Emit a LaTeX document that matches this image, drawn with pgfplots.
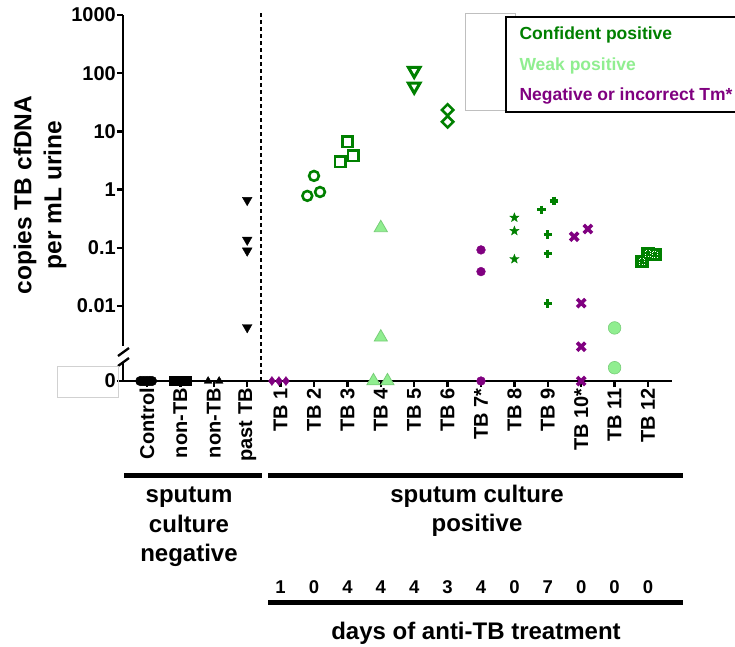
\documentclass[border=0pt]{standalone}
\usepackage{fontspec}
\setmainfont{Liberation Sans}
\usepackage{pgfplots}
\pgfplotsset{compat=1.18}
\definecolor{cgreen}{RGB}{0,128,0}
\definecolor{lgreen}{RGB}{144,238,144}
\definecolor{lgedge}{RGB}{120,205,120}
\definecolor{cpurple}{RGB}{128,0,128}
\pgfdeclareplotmark{fstar}{%
  \pgfpathmoveto{\pgfpointpolar{90}{\pgfplotmarksize}}%
  \pgfpathlineto{\pgfpointpolar{126}{0.42\pgfplotmarksize}}%
  \pgfpathlineto{\pgfpointpolar{162}{\pgfplotmarksize}}%
  \pgfpathlineto{\pgfpointpolar{198}{0.42\pgfplotmarksize}}%
  \pgfpathlineto{\pgfpointpolar{234}{\pgfplotmarksize}}%
  \pgfpathlineto{\pgfpointpolar{270}{0.42\pgfplotmarksize}}%
  \pgfpathlineto{\pgfpointpolar{306}{\pgfplotmarksize}}%
  \pgfpathlineto{\pgfpointpolar{342}{0.42\pgfplotmarksize}}%
  \pgfpathlineto{\pgfpointpolar{18}{\pgfplotmarksize}}%
  \pgfpathlineto{\pgfpointpolar{54}{0.42\pgfplotmarksize}}%
  \pgfpathclose\pgfusepathqfillstroke}
\begin{document}
\begin{tikzpicture}[x=1pt,y=1pt]
\useasboundingbox (0,0) rectangle (735,-646);
\begin{axis}[
  at={(123pt,-381pt)}, anchor=south west,
  scale only axis, width=549pt, height=366pt,
  xmin=-0.7186, xmax=15.719,
  ymode=log, ymin=5.14e-4, ymax=1000,
  axis x line*=bottom, axis y line*=left,
  axis line style={line width=2.3pt, black},
  clip=false,
  tick align=outside, major tick length=6pt,
  major tick style={line width=2.3pt, black},
  minor tick num=0,
  xtick={0,...,15},
  xticklabels={Control,non-TB,non-TB,past TB,TB 1,TB 2,TB 3,TB 4,TB 5,TB 6,TB 7*,TB 8,TB 9,TB 10*,TB 11,TB 12},
  x tick label style={rotate=90, anchor=east, font=\bfseries\fontsize{20}{22}\selectfont, inner sep=1pt},
  ytick={5.14e-4,0.01,0.1,1,10,100,1000},
  yticklabels={0,0.01,0.1,1,10,100,1000},
  y tick label style={font=\bfseries\fontsize{20}{22}\selectfont, inner sep=1pt},
  ylabel={copies TB cfDNA\\per mL urine},
  ylabel style={at={(axis description cs:-0.1512,0.508)}, anchor=center, align=center, font=\bfseries\fontsize{24.5}{30}\selectfont},
]
% Control
\addplot[only marks, mark=*, mark size=4.8pt, black] coordinates {(-0.2,5.14e-4)(-0.13,5.14e-4)(-0.06,5.14e-4)(0.01,5.14e-4)(0.08,5.14e-4)(0.15,5.14e-4)};
% non-TB squares
\addplot[only marks, mark=square*, mark size=4.5pt, black] coordinates {(0.8,5.14e-4)(0.88,5.14e-4)(0.96,5.14e-4)(1.04,5.14e-4)(1.12,5.14e-4)(1.2,5.14e-4)};
% non-TB triangles
\addplot[only marks, mark=triangle*, mark size=4.5pt, black] coordinates {(1.83,5.14e-4)(2.16,5.14e-4)};
% past TB
\addplot[only marks, mark=triangle*, mark options={rotate=180}, mark size=5.6pt, black] coordinates {(3,0.66)(3,0.137)(3,0.089)(3,0.0043)};
% TB 1
\addplot[only marks, mark=diamond*, mark size=4.5pt, cpurple] coordinates {(3.74,5.14e-4)(3.95,5.14e-4)(4.16,5.14e-4)};
% TB 2
\addplot[only marks, mark=o, mark size=4.9pt, cgreen, mark options={line width=2.6pt}] coordinates {(4.8,0.78)(5.0,1.72)(5.18,0.91)};
% TB 3
\addplot[only marks, mark=square, mark size=5.2pt, cgreen, mark options={line width=2.6pt}] coordinates {(5.78,3.0)(6.0,6.6)(6.17,3.8)};
% TB 4
\addplot[only marks, mark=triangle*, mark size=7.6pt, mark options={fill=lgreen, draw=lgedge, line width=0.8pt}] coordinates {(7,0.22)(7,0.0029)(6.78,5.14e-4)(7.2,5.14e-4)};
% TB 5
\addplot[only marks, mark=triangle, mark size=6.6pt, cgreen, mark options={rotate=180, line width=3pt}] coordinates {(8,110)(8,59)};
% TB 6
\addplot[only marks, mark=square, mark size=4pt, cgreen, mark options={rotate=45, line width=2.6pt}] coordinates {(9,23.4)(9,14.6)};
% TB 7*
\addplot[only marks, mark=*, mark size=4.4pt, cpurple] coordinates {(10,0.092)(10,0.039)(10,5.14e-4)};
% TB 8
\addplot[only marks, mark=fstar, mark size=4.8pt, cgreen, mark options={fill=cgreen, line width=0.4pt}] coordinates {(11,0.33)(11,0.195)(11,0.064)};
% TB 9
\addplot[only marks, mark=+, mark size=4.2pt, cgreen, mark options={line width=3.3pt}] coordinates {(11.81,0.45)(12.19,0.64)(12,0.17)(12,0.079)(12,0.011)};
% TB 10*
\addplot[only marks, mark=x, mark size=5.8pt, cpurple, mark options={line width=3.6pt}] coordinates {(12.79,0.155)(13.2,0.21)(13,0.0112)(13,0.0020)(13,5.14e-4)};
% TB 11
\addplot[only marks, mark=*, mark size=6.3pt, mark options={fill=lgreen, draw=lgedge, line width=0.6pt}] coordinates {(14,0.0042)(14,0.00087)};
% TB 12
\addplot[only marks, mark=square*, mark size=6.2pt, cgreen, mark options={line width=0.6pt}] coordinates {(14.82,0.059)(15.0,0.081)(15.2,0.078)};
\addplot[only marks, mark=square, mark size=2.8pt, mark options={draw=white, line width=0.6pt, dash pattern=on 0.7pt off 1.8pt}] coordinates {(14.82,0.059)(15.0,0.081)(15.2,0.078)};
\end{axis}
% y-axis break
\fill[white] (117,-346) rectangle (130,-368);
\draw[line width=2.3pt] (118,-356) -- (129,-348);
\draw[line width=2.3pt] (118,-366) -- (129,-358);
\draw[line width=2.3pt] (123,-362) -- (123,-381);
% gray artefact boxes
\draw[black!18, line width=0.8pt] (57,-366) rectangle (118,-397);
% dashed separator
\draw[line width=1.5pt, dash pattern=on 4pt off 3pt] (261,-13) -- (261,-381);
% legend
\draw[black!25, line width=0.8pt] (465,-13) rectangle (515,-110);
\filldraw[fill=white, draw=black, line width=2.3pt] (506,-17) rectangle (745,-112);
\node[anchor=west, text=cgreen, font=\bfseries\fontsize{17.5}{20}\selectfont] at (516,-35) {Confident positive};
\node[anchor=west, text=lgreen, font=\bfseries\fontsize{17.5}{20}\selectfont] at (516,-66) {Weak positive};
\node[anchor=west, text=cpurple, font=\bfseries\fontsize{17.5}{20}\selectfont] at (516,-96) {Negative or incorrect Tm*};
% group bars and labels
\draw[line width=5pt] (124,-475) -- (262,-475);
\draw[line width=5pt] (268,-475) -- (683,-475);
\node[align=center, font=\bfseries\fontsize{24}{29.5}\selectfont] at (189,-527) {sputum\\culture\\negative};
\node[align=center, font=\bfseries\fontsize{24}{29.5}\selectfont] at (477,-511) {sputum culture\\positive};
\foreach \d [count=\k from 4] in {1,0,4,4,4,3,4,0,7,0,0,0}
  \node[font=\bfseries\fontsize{18.5}{20}\selectfont] at ({147+33.4*\k},-587) {\d};
\draw[line width=5pt] (268,-602) -- (683,-602);
\node[font=\bfseries\fontsize{24}{28}\selectfont] at (476,-633) {days of anti-TB treatment};
\end{tikzpicture}
\end{document}
